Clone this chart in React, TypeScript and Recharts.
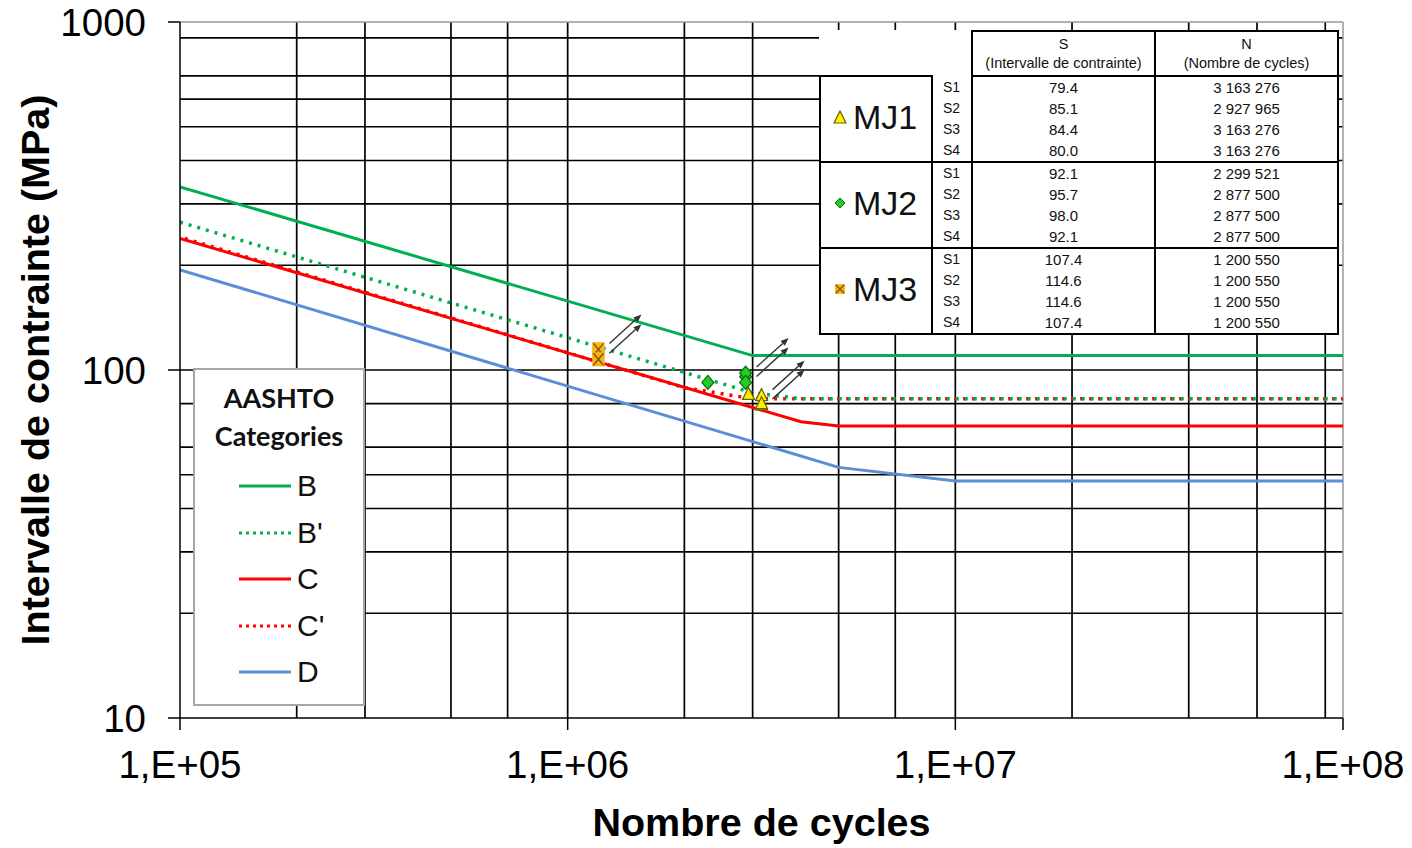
import {
  ComposedChart,
  Line,
  Scatter,
  XAxis,
  YAxis,
  CartesianGrid,
  ReferenceLine,
} from "recharts";

// axis ticks
const xTicks = [1e5, 1e6, 1e7, 1e8];
const yTicks = [10, 100, 1000];
const minorSteps = [2, 3, 4, 5, 6, 7, 8, 9];
const xGrid = [1e5, 1e6, 1e7].flatMap((d) => [d, ...minorSteps.map((m) => m * d)]).slice(1);
const yGrid = [10, 100].flatMap((d) => [d, ...minorSteps.map((m) => m * d)]).slice(1);

// AASHTO S-N curves (N cycles, S MPa)
const curveB = [
  { n: 1e5, s: 336 },
  { n: 3e6, s: 110 },
  { n: 1e8, s: 110 },
];
const curveBp = [
  { n: 1e5, s: 266 },
  { n: 3e6, s: 86 },
  { n: 4e6, s: 82.7 },
  { n: 1e8, s: 82.7 },
];
const curveC = [
  { n: 1e5, s: 239 },
  { n: 4e6, s: 71 },
  { n: 5e6, s: 69 },
  { n: 1e8, s: 69 },
];
const curveCp = [
  { n: 1e5, s: 241 },
  { n: 2e6, s: 89 },
  { n: 3e6, s: 82.7 },
  { n: 1e8, s: 82.7 },
];
const curveD = [
  { n: 1e5, s: 194 },
  { n: 5e6, s: 52.5 },
  { n: 1e7, s: 48 },
  { n: 1e8, s: 48 },
];

// test results
const labelsS = ["S1", "S2", "S3", "S4"];
const mj1 = [
  { n: 3163276, s: 79.4 },
  { n: 2927965, s: 85.1 },
  { n: 3163276, s: 84.4 },
  { n: 3163276, s: 80.0 },
];
const mj2 = [
  { n: 2299521, s: 92.1 },
  { n: 2877500, s: 95.7 },
  { n: 2877500, s: 98.0 },
  { n: 2877500, s: 92.1 },
];
const mj3 = [
  { n: 1200550, s: 107.4 },
  { n: 1200550, s: 114.6 },
  { n: 1200550, s: 114.6 },
  { n: 1200550, s: 107.4 },
];
// run-outs (arrows)
const runouts = [
  { n: 1200550, s: 114.6 },
  { n: 1200550, s: 107.4 },
  { n: 2877500, s: 98.0 },
  { n: 2877500, s: 92.1 },
  { n: 3163276, s: 84.4 },
  { n: 3163276, s: 79.4 },
];

const GREEN = "#00b050";
const RED = "#ff0000";
const BLUE = "#5b8ed6";
const FONT = "'Liberation Sans', Arial, sans-serif";

const fmtN = (n: number) => String(n).replace(/\B(?=(\d{3})+(?!\d))/g, " ");
const fmtX = (v: number) => `1,E+0${Math.round(Math.log10(v))}`;

const Triangle = (p: any) => (
  <polygon
    points={`${p.cx},${p.cy - 7} ${p.cx - 6},${p.cy + 5} ${p.cx + 6},${p.cy + 5}`}
    fill="#fff000"
    stroke="#6b6000"
    strokeWidth={1.2}
  />
);
const Diamond = (p: any) => (
  <polygon
    points={`${p.cx},${p.cy - 7} ${p.cx + 6},${p.cy} ${p.cx},${p.cy + 7} ${p.cx - 6},${p.cy}`}
    fill="#22cc22"
    stroke="#0a6a0a"
    strokeWidth={1.2}
  />
);
const CrossBox = (p: any) => (
  <g>
    <rect x={p.cx - 6} y={p.cy - 7} width={12} height={14} fill="#f5b31c" />
    <path
      d={`M${p.cx - 5},${p.cy - 6} L${p.cx + 5},${p.cy + 6} M${p.cx + 5},${p.cy - 6} L${p.cx - 5},${p.cy + 6}`}
      stroke="#7a5400"
      strokeWidth={1.3}
    />
  </g>
);
const Arrow = (p: any) => {
  const x1 = p.cx + 11;
  const y1 = p.cy - 6;
  const x2 = p.cx + 43;
  const y2 = p.cy - 35;
  const len = Math.hypot(x2 - x1, y2 - y1);
  const ux = (x2 - x1) / len;
  const uy = (y2 - y1) / len;
  const bx = x2 - 8 * ux;
  const by = y2 - 8 * uy;
  return (
    <g>
      <line x1={x1} y1={y1} x2={bx} y2={by} stroke="#333" strokeWidth={1.4} />
      <polygon
        points={`${x2},${y2} ${bx - 3.2 * uy},${by + 3.2 * ux} ${bx + 3.2 * uy},${by - 3.2 * ux}`}
        fill="#333"
      />
    </g>
  );
};

const legendItems = [
  { label: "B", color: GREEN, dash: undefined },
  { label: "B'", color: GREEN, dash: "3 4" },
  { label: "C", color: RED, dash: undefined },
  { label: "C'", color: RED, dash: "3 4" },
  { label: "D", color: BLUE, dash: undefined },
];

const groups = [
  { name: "MJ1", icon: "tri", rows: mj1 },
  { name: "MJ2", icon: "dia", rows: mj2 },
  { name: "MJ3", icon: "x", rows: mj3 },
];

function GroupIcon({ kind }: { kind: string }) {
  return (
    <svg width={14} height={14} style={{ verticalAlign: "middle", marginRight: 6 }}>
      {kind === "tri" && <Triangle cx={7} cy={8} />}
      {kind === "dia" && (
        <polygon points="7,2 12,7 7,12 2,7" fill="#22cc22" stroke="#0a6a0a" strokeWidth={1} />
      )}
      {kind === "x" && (
        <g>
          <rect x={2} y={2} width={10} height={10} fill="#f5b31c" />
          <path d="M3,3 L11,11 M11,3 L3,11" stroke="#7a5400" strokeWidth={1.2} />
        </g>
      )}
    </svg>
  );
}

function ResultsTable() {
  const b = "2px solid #000";
  const cell: React.CSSProperties = {
    padding: 0,
    height: 21,
    fontSize: 15,
    lineHeight: "15px",
    textAlign: "center",
    borderLeft: b,
    borderRight: b,
  };
  const head: React.CSSProperties = {
    border: b,
    fontSize: 14.5,
    textAlign: "center",
    lineHeight: "19px",
    padding: 0,
  };
  return (
    <table
      style={{
        position: "absolute",
        left: 819,
        top: 30,
        width: 518,
        borderCollapse: "collapse",
        tableLayout: "fixed",
        background: "#fff",
        fontFamily: FONT,
        color: "#111",
      }}
    >
      <colgroup>
        <col style={{ width: 112 }} />
        <col style={{ width: 40 }} />
        <col style={{ width: 183 }} />
        <col style={{ width: 183 }} />
      </colgroup>
      <tbody>
        <tr style={{ height: 45 }}>
          <td style={{ padding: 0 }} />
          <td style={{ padding: 0 }} />
          <td style={head}>
            S<br />(Intervalle de contrainte)
          </td>
          <td style={head}>
            N<br />(Nombre de cycles)
          </td>
        </tr>
        {groups.map((g) =>
          g.rows.map((r, i) => (
            <tr key={g.name + i} style={{ borderBottom: i === 3 ? b : undefined }}>
              {i === 0 && (
                <td
                  rowSpan={4}
                  style={{
                    border: b,
                    padding: "0 0 6px 12px",
                    fontSize: 34,
                    textAlign: "left",
                    whiteSpace: "nowrap",
                  }}
                >
                  <GroupIcon kind={g.icon} />
                  <span style={{ verticalAlign: "middle" }}>{g.name}</span>
                </td>
              )}
              <td style={{ ...cell, textAlign: "left", paddingLeft: 10, fontSize: 14 }}>{labelsS[i]}</td>
              <td style={cell}>{r.s.toFixed(1)}</td>
              <td style={cell}>{fmtN(r.n)}</td>
            </tr>
          ))
        )}
      </tbody>
    </table>
  );
}

function CategoryLegend() {
  return (
    <div
      style={{
        position: "absolute",
        left: 193,
        top: 368,
        width: 168,
        height: 334,
        border: "2px solid #a6a6a6",
        background: "#fff",
      }}
    >
      <div
        style={{
          position: "absolute",
          top: 9,
          width: "100%",
          textAlign: "center",
          fontFamily: "Lato, 'Open Sans', sans-serif",
          fontWeight: 700,
          fontSize: 27,
          lineHeight: "38px",
          color: "#111",
        }}
      >
        AASHTO
        <br />
        Categories
      </div>
      {legendItems.map((it, i) => (
        <div
          key={it.label}
          style={{ position: "absolute", left: 44, top: 96 + i * 46.5, height: 40, display: "flex", alignItems: "center" }}
        >
          <svg width={54} height={10}>
            <line
              x1={0}
              y1={5}
              x2={52}
              y2={5}
              stroke={it.color}
              strokeWidth={3}
              strokeDasharray={it.dash}
            />
          </svg>
          <span style={{ fontFamily: FONT, fontSize: 30, marginLeft: 4, color: "#111" }}>{it.label}</span>
        </div>
      ))}
    </div>
  );
}

export default function App() {
  return (
    <div style={{ position: "absolute", left: 0, top: 0, width: 1412, height: 848, background: "#fff" }}>
      <ComposedChart width={1412} height={848} margin={{ top: 22, right: 69, bottom: 0, left: 0 }}>
        <CartesianGrid
          stroke="#000"
          strokeWidth={1.7}
          horizontalValues={yGrid}
          verticalValues={xGrid}
        />
        <XAxis
          type="number"
          dataKey="n"
          scale="log"
          domain={[1e5, 1e8]}
          ticks={xTicks}
          tickFormatter={fmtX}
          allowDataOverflow
          height={130}
          tickSize={12}
          tickMargin={21}
          stroke="#000"
          strokeWidth={1.5}
          tick={{ fill: "#000", fontSize: 38.5, fontFamily: FONT }}
          label={{
            value: "Nombre de cycles",
            position: "insideBottom",
            offset: 12,
            style: { fontSize: 39.5, fontWeight: 700, fill: "#000", fontFamily: FONT },
          }}
        />
        <YAxis
          type="number"
          dataKey="s"
          scale="log"
          domain={[10, 1000]}
          ticks={yTicks}
          allowDataOverflow
          width={180}
          tickSize={12}
          tickMargin={22}
          stroke="#000"
          strokeWidth={1.5}
          tick={{ fill: "#000", fontSize: 38.5, fontFamily: FONT }}
          label={{
            value: "Intervalle de contrainte (MPa)",
            angle: -90,
            position: "insideLeft",
            offset: 35,
            style: { fontSize: 39.5, fontWeight: 700, fill: "#000", fontFamily: FONT, textAnchor: "middle" },
          }}
        />
        <ReferenceLine y={1000} stroke="#999" strokeWidth={1.5} />
        <ReferenceLine x={1e8} stroke="#999" strokeWidth={1.5} />
        <Line data={curveD} dataKey="s" stroke={BLUE} strokeWidth={3} dot={false} isAnimationActive={false} />
        <Line data={curveC} dataKey="s" stroke={RED} strokeWidth={3} dot={false} isAnimationActive={false} />
        <Line
          data={curveCp}
          dataKey="s"
          stroke={RED}
          strokeWidth={3.5}
          strokeDasharray="3 6"
          strokeDashoffset={4}
          dot={false}
          isAnimationActive={false}
        />
        <Line
          data={curveBp}
          dataKey="s"
          stroke={GREEN}
          strokeWidth={3.5}
          strokeDasharray="3 6"
          dot={false}
          isAnimationActive={false}
        />
        <Line data={curveB} dataKey="s" stroke={GREEN} strokeWidth={3} dot={false} isAnimationActive={false} />
        <Scatter data={runouts} shape={Arrow} isAnimationActive={false} />
        <Scatter data={mj3} shape={CrossBox} isAnimationActive={false} />
        <Scatter data={mj2} shape={Diamond} isAnimationActive={false} />
        <Scatter data={mj1} shape={Triangle} isAnimationActive={false} />
      </ComposedChart>
      <CategoryLegend />
      <ResultsTable />
    </div>
  );
}
